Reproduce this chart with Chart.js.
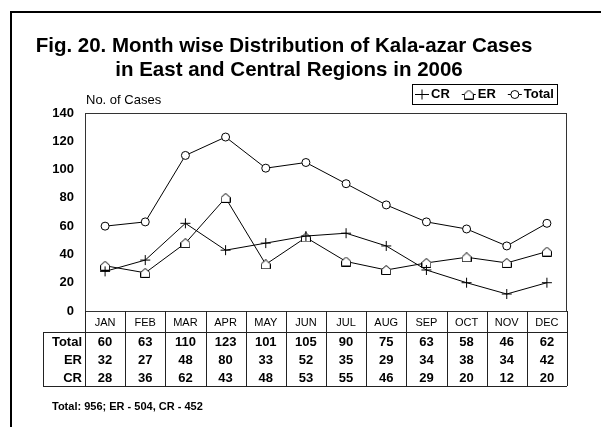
<!DOCTYPE html>
<html>
<head>
<meta charset="utf-8">
<script src="https://cdn.jsdelivr.net/npm/chart.js@4/dist/chart.umd.min.js"></script>
<style>
  html, body { margin: 0; padding: 0; background: #fff; }
  canvas { display: block; }
</style>
</head>
<body>
<canvas id="kalaChart" width="601" height="427"></canvas>
<script>
const months = ['JAN', 'FEB', 'MAR', 'APR', 'MAY', 'JUN', 'JUL', 'AUG', 'SEP', 'OCT', 'NOV', 'DEC'];
const totalCases = [60, 63, 110, 123, 101, 105, 90, 75, 63, 58, 46, 62];
const erCases = [32, 27, 48, 80, 33, 52, 35, 29, 34, 38, 34, 42];
const crCases = [28, 36, 62, 43, 48, 53, 55, 46, 29, 20, 12, 20];
const titleLines = ['Fig. 20. Month wise Distribution of Kala-azar Cases', 'in East and Central Regions in 2006'];
const yAxisLabel = 'No. of Cases';
const footNote = 'Total: 956; ER - 504, CR - 452';

const FONT = '"Liberation Sans", Arial, sans-serif';

// little house shaped marker used for ER
function makeHouse() {
    const c = document.createElement('canvas');
    c.width = 10;
    c.height = 10;
    const g = c.getContext('2d');
    g.beginPath();
    g.moveTo(5, 0.5);
    g.lineTo(9.5, 4.5);
    g.lineTo(9.5, 9.5);
    g.lineTo(0.5, 9.5);
    g.lineTo(0.5, 4.5);
    g.closePath();
    g.fillStyle = '#fff';
    g.fill();
    g.strokeStyle = '#000';
    g.lineWidth = 1;
    g.stroke();
    return c;
}
const houseMarker = makeHouse();

// frame, titles, legend and the data table under the plot
const extras = {
    id: 'extras',
    beforeDatasetsDraw(chart) {
        const ctx = chart.ctx;
        const a = chart.chartArea;
        ctx.save();
        ctx.strokeStyle = '#333';
        ctx.lineWidth = 1;
        ctx.strokeRect(a.left + 0.5, a.top + 0.5, a.right - a.left - 1, a.bottom - a.top);
        ctx.restore();
    },
    afterDraw(chart) {
        const ctx = chart.ctx;
        const a = chart.chartArea;
        const xs = chart.scales.x;
        const colW = (a.right - a.left) / months.length;
        ctx.save();

        // outer frame (open on right and bottom)
        ctx.strokeStyle = '#000';
        ctx.lineWidth = 2;
        ctx.beginPath();
        ctx.moveTo(11, 427);
        ctx.lineTo(11, 12);
        ctx.lineTo(601, 12);
        ctx.stroke();

        // title
        ctx.fillStyle = '#000';
        ctx.font = 'bold 20.5px ' + FONT;
        ctx.textAlign = 'center';
        ctx.textBaseline = 'middle';
        ctx.fillText(titleLines[0], 284, 46);
        ctx.fillText(titleLines[1], 289, 70);

        // y axis caption
        ctx.font = '13px ' + FONT;
        ctx.textAlign = 'left';
        ctx.fillText(yAxisLabel, 86, 100);

        // legend
        const items = chart.data.datasets.map((ds, i) => ({ ds: ds, meta: chart.getDatasetMeta(i) }));
        ctx.font = 'bold 13px ' + FONT;
        const symW = 14, gap = 12, pad = 3;
        let width = pad * 2;
        items.forEach((it, i) => {
            width += symW + 2 + ctx.measureText(it.ds.label).width + (i < items.length - 1 ? gap : 0);
        });
        const boxR = 557, boxT = 84, boxH = 20;
        const boxL = Math.round(boxR - width);
        ctx.lineWidth = 1;
        ctx.strokeStyle = '#000';
        ctx.strokeRect(boxL + 0.5, boxT + 0.5, boxR - boxL, boxH);
        let lx = boxL + pad;
        const ly = boxT + boxH / 2 + 0.5;
        items.forEach((it) => {
            ctx.beginPath();
            ctx.moveTo(lx, ly);
            ctx.lineTo(lx + symW, ly);
            ctx.stroke();
            ctx.fillStyle = '#fff';
            ctx.strokeStyle = '#000';
            Chart.helpers.drawPoint(ctx, {
                pointStyle: it.ds.pointStyle,
                radius: it.ds.pointRadius,
                borderWidth: 1,
                rotation: 0
            }, lx + symW / 2, ly);
            ctx.fillStyle = '#000';
            ctx.textAlign = 'left';
            ctx.fillText(it.ds.label, lx + symW + 2, ly);
            lx += symW + 2 + ctx.measureText(it.ds.label).width + gap;
        });

        // data table
        const catBottom = 332;
        const rowH = 18;
        const rows = [['Total', totalCases], ['ER', erCases], ['CR', crCases]];
        const tableL = 43;
        const tableB = catBottom + rows.length * rowH;
        ctx.strokeStyle = '#222';
        ctx.lineWidth = 1;
        ctx.beginPath();
        for (let i = 0; i <= months.length; i++) {
            const x = Math.round(a.left + i * colW) + 0.5;
            ctx.moveTo(x, a.bottom);
            ctx.lineTo(x, tableB);
        }
        ctx.moveTo(tableL + 0.5, catBottom);
        ctx.lineTo(tableL + 0.5, tableB);
        ctx.moveTo(tableL, catBottom + 0.5);
        ctx.lineTo(a.right, catBottom + 0.5);
        ctx.moveTo(tableL, tableB + 0.5);
        ctx.lineTo(a.right, tableB + 0.5);
        ctx.stroke();

        ctx.fillStyle = '#000';
        ctx.textAlign = 'center';
        ctx.font = '11px ' + FONT;
        months.forEach((m, i) => {
            ctx.fillText(m, xs.getPixelForValue(i), (a.bottom + catBottom) / 2 + 1);
        });
        ctx.font = 'bold 13px ' + FONT;
        rows.forEach((r, j) => {
            const y = catBottom + rowH * j + rowH / 2 + 1;
            ctx.textAlign = 'right';
            ctx.fillText(r[0], a.left - 3, y);
            ctx.textAlign = 'center';
            r[1].forEach((v, i) => {
                ctx.fillText(String(v), xs.getPixelForValue(i), y);
            });
        });

        // footnote
        ctx.font = 'bold 11px ' + FONT;
        ctx.textAlign = 'left';
        ctx.fillText(footNote, 52, 407);

        ctx.restore();
    }
};

const ctx = document.getElementById('kalaChart').getContext('2d');
const kalaChart = new Chart(ctx, {
    type: 'line',
    data: {
        labels: months,
        datasets: [{
            label: 'CR',
            data: crCases,
            borderColor: '#000',
            borderWidth: 1,
            pointStyle: 'cross',
            pointRadius: 5,
            pointBorderColor: '#000',
            pointBorderWidth: 1,
            tension: 0
        }, {
            label: 'ER',
            data: erCases,
            borderColor: '#000',
            borderWidth: 1,
            pointStyle: houseMarker,
            pointRadius: 5,
            tension: 0
        }, {
            label: 'Total',
            data: totalCases,
            borderColor: '#000',
            borderWidth: 1,
            pointStyle: 'circle',
            pointRadius: 4,
            pointBackgroundColor: '#fff',
            pointBorderColor: '#000',
            pointBorderWidth: 1,
            tension: 0
        }]
    },
    options: {
        responsive: false,
        animation: false,
        devicePixelRatio: 1,
        layout: {
            padding: { left: 12, top: 113, right: 34, bottom: 116 }
        },
        plugins: {
            legend: { display: false },
            title: { display: false },
            tooltip: { enabled: false }
        },
        scales: {
            x: {
                display: false,
                offset: true
            },
            y: {
                min: 0,
                max: 140,
                border: { display: false },
                grid: { display: false, drawTicks: false },
                ticks: {
                    stepSize: 20,
                    padding: 11,
                    color: '#000',
                    font: { family: FONT, size: 13, weight: 'bold' }
                },
                afterFit(scale) {
                    scale.width = 73;
                }
            }
        }
    },
    plugins: [extras]
});
</script>
</body>
</html>
